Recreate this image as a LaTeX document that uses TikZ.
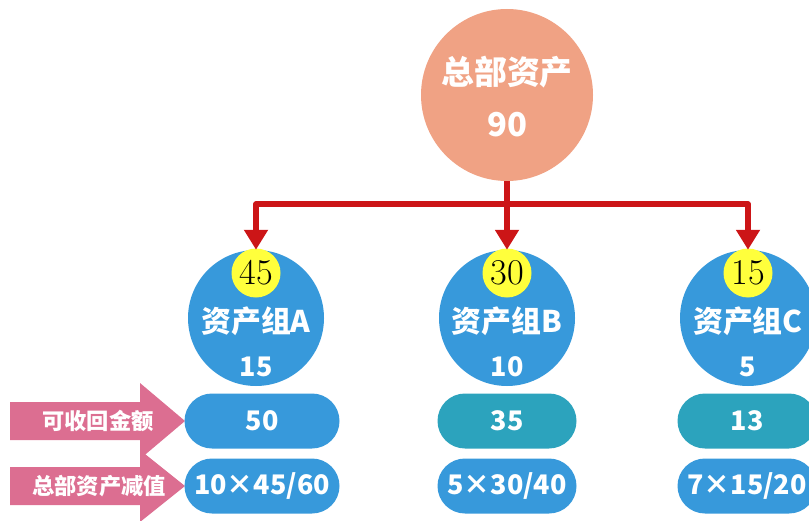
\documentclass[tikz,border=0pt]{standalone}
\usepackage{fontspec}
\usepackage{tikz}
\usetikzlibrary{arrows.meta,positioning,shapes.misc}
\newfontfamily\cjk{Noto Sans CJK SC}
\definecolor{hqcol}{HTML}{F0A284}
\definecolor{grpcol}{HTML}{3799DB}
\definecolor{tealcol}{HTML}{2CA3BD}
\definecolor{pinkcol}{HTML}{DC6E91}
\definecolor{linkcol}{HTML}{CC1517}
\definecolor{sharecol}{HTML}{FFFF3C}
\tikzset{%
	hq/.style       = {circle, fill=hqcol, minimum size=51.6mm, inner sep=0pt}, % Head office
	grp/.style      = {circle, fill=grpcol, minimum size=40.8mm, inner sep=0pt}, % Asset group
	share/.style    = {circle, fill=sharecol, minimum size=14.7mm, inner sep=0pt, font=\fontsize{31}{31}\selectfont}, % Share
	pill/.style     = {rounded rectangle, fill=grpcol, minimum height=16.5mm, minimum width=41.7mm, inner sep=0pt, text=white, font=\cjk\bfseries\fontsize{23}{23}\selectfont}, % Value
	hqtext/.style   = {text=white, font=\cjk\bfseries\fontsize{28}{28}\selectfont},
	grptext/.style  = {text=white, font=\cjk\bfseries\fontsize{25.5}{25.5}\selectfont},
	valtext/.style  = {text=white, font=\cjk\bfseries\fontsize{23}{23}\selectfont},
	tag/.style      = {text=white, font=\cjk\bfseries\fontsize{19}{19}\selectfont}, % Row label
	link/.style     = {draw=linkcol, line width=1.6mm, line join=round},
}

\begin{document}
\begin{tikzpicture}[x=0.3mm, y=-0.3mm, >={Triangle[width=6.9mm,length=6mm]}]
	\useasboundingbox (0,0) rectangle (809,520);
	\clip (0,0) rectangle (809,520);
	% head office
	\node[hq] (hq) at (507,95) {};
	\node[hqtext] (hqname) at (507,72) {总部资产};
	\node[hqtext] (hqval) at (507,125) {90};
	% asset groups
	\node[grp] (grpA) at (256,318) {};
	\node[grp] (grpB) at (507,318) {};
	\node[grp] (grpC) at (748,318) {};
	\node[share] (shareA) at (256,273) {45};
	\node[share] (shareB) at (507,273) {30};
	\node[share] (shareC) at (748,273) {15};
	\node[grptext] (nameA) at (256,321) {资产组A};
	\node[grptext] (nameB) at (507,321) {资产组B};
	\node[grptext] (nameC) at (748,321) {资产组C};
	\node[valtext] (valA) at (256,367) {15};
	\node[valtext] (valB) at (507,367) {10};
	\node[valtext] (valC) at (748,367) {5};
	% allocation
	\coordinate (split) at (507,204);
	\draw[link,->] (hq.south) -- (grpB.north);
	\draw[link,->] (split) -| (grpA.north);
	\draw[link,->] (split) -| (grpC.north);
	% rows
	\fill[pinkcol] (10,402) -- (140,402) -- (140,383) -- (185,421) -- (140,459) -- (140,440) -- (10,440) -- cycle;
	\fill[pinkcol] (10,467) -- (140,467) -- (140,450) -- (185,486) -- (140,522) -- (140,505) -- (10,505) -- cycle;
	\node[tag] (tagrec) at (98,421) {可收回金额};
	\node[tag] (tagimp) at (99,486) {总部资产减值};
	\node[pill, minimum width=46.5mm] (recA) at (262,421) {50};
	\node[pill, fill=tealcol] (recB) at (507,421) {35};
	\node[pill, fill=tealcol] (recC) at (747,421) {13};
	\node[pill, minimum width=46.5mm] (impA) at (262,486) {10×45/60};
	\node[pill] (impB) at (507,486) {5×30/40};
	\node[pill] (impC) at (747,486) {7×15/20};
\end{tikzpicture}
\end{document}
